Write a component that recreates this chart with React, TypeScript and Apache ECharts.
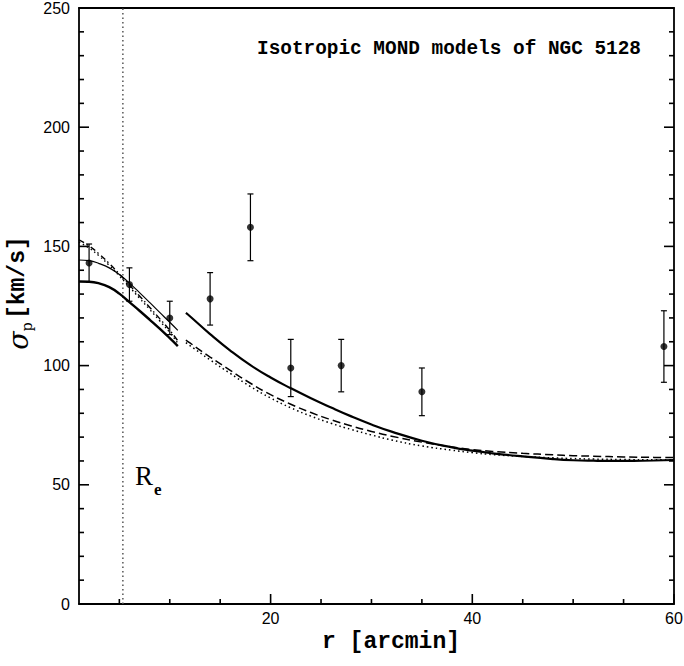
import React, { useEffect, useRef } from "react";
import * as echarts from "echarts";

// Observed data
const dataR = [2, 6, 10, 14, 18, 22, 27, 35, 59];
const dataSigma = [143, 134, 120, 128, 158, 99, 100, 89, 108];
const dataErr = [8, 7, 7, 11, 14, 12, 11, 10, 15];

// Inner models
const innerR = [1, 2, 3, 4, 5, 6, 7, 8, 9, 10, 10.8];
const innerThick = [135.3, 135.2, 134.5, 132.9, 130.2, 126.6, 123.0, 119.3, 115.5, 111.5, 108.2];
const innerThin = [144.3, 144.0, 142.8, 141.0, 138.2, 134.6, 130.6, 126.5, 122.3, 118.2, 114.8];
const innerDashDot = [152.7, 150.2, 146.8, 142.8, 138.4, 133.8, 129.2, 124.5, 119.7, 114.8, 110.4];
const innerDotted = [151.8, 149.3, 146.0, 142.0, 137.6, 133.0, 128.3, 123.6, 118.8, 113.9, 109.4];

// Outer models
const outerR = [11.6, 12, 14, 16, 18, 20, 22, 24, 26, 28, 30, 32, 35, 38, 40, 42, 45, 48, 50, 52, 55, 58, 60];
const outerThick = [122.1, 120.7, 113.2, 106.3, 100.2, 95.0, 90.5, 86.3, 82.4, 78.7, 75.3, 72.3, 68.5, 65.7, 64.3, 63.2, 61.9, 60.8, 60.3, 60.1, 60.0, 60.2, 60.4];
const outerDashed = [110.7, 109.5, 103.6, 98.0, 92.6, 87.8, 83.8, 80.3, 77.3, 74.7, 72.4, 70.4, 67.9, 65.9, 64.8, 64.0, 63.2, 62.6, 62.2, 62.0, 61.7, 61.5, 61.4];
const outerDotted = [109.6, 108.4, 102.4, 96.7, 91.2, 86.4, 82.3, 78.8, 75.8, 73.2, 70.9, 68.8, 66.3, 64.5, 63.5, 62.7, 61.9, 61.3, 61.0, 60.8, 60.6, 60.5, 60.5];

const effectiveRadius = 5.35;
const xMin = 1;
const xMax = 60;
const yMin = 0;
const yMax = 250;
const xMajorTicks = [20, 40, 60];
const xMinorTicks = [5, 10, 15, 25, 30, 35, 45, 50, 55];
const yMajorTicks = [0, 50, 100, 150, 200, 250];
const yMinorTicks = [10, 20, 30, 40, 60, 70, 80, 90, 110, 120, 130, 140, 160, 170, 180, 190, 210, 220, 230, 240];

const zip = (xs: number[], ys: number[]) => xs.map((x, i) => [x, ys[i]]);

export default function App() {
  const ref = useRef<HTMLDivElement>(null);
  useEffect(() => {
    if (!ref.current) return;
    const chart = echarts.init(ref.current, undefined, { renderer: "svg" });
    const axisLine = { show: true, onZero: false, lineStyle: { color: "#000", width: 1.8 } };
    const lineSeries = (data: number[][], width: number, type: any) => ({
      type: "line",
      data,
      symbol: "none",
      smooth: true,
      lineStyle: { color: "#000", width, type },
      z: 3,
    });
    // tick items: [value, side (0 bottom, 1 left, 2 right), length]
    const tickData: number[][] = [
      ...xMajorTicks.map((v) => [v, 0, 10]),
      ...xMinorTicks.map((v) => [v, 0, 5]),
      ...yMajorTicks.map((v) => [v, 1, 10]),
      ...yMinorTicks.map((v) => [v, 1, 5]),
      ...yMajorTicks.map((v) => [v, 2, 10]),
      ...yMinorTicks.map((v) => [v, 2, 5]),
    ];
    const option: any = {
      animation: false,
      backgroundColor: "#fff",
      grid: {
        left: 79, right: 10, top: 8, bottom: 62,
        outerBoundsMode: "none", containLabel: false, show: false,
      },
      xAxis: [
        {
          type: "value", min: xMin, max: xMax, position: "bottom",
          axisLine, splitLine: { show: false }, axisTick: { show: false },
          axisLabel: { show: true, customValues: xMajorTicks, color: "#000", fontSize: 16, fontFamily: "Liberation Sans", margin: 6 },
        },
        {
          type: "value", min: xMin, max: xMax, position: "top",
          axisLine, splitLine: { show: false },
          axisTick: { show: false }, axisLabel: { show: false },
        },
      ],
      yAxis: [
        {
          type: "value", min: yMin, max: yMax, interval: 50, position: "left",
          axisLine, splitLine: { show: false }, axisTick: { show: false },
          axisLabel: { color: "#000", fontSize: 16, fontFamily: "Liberation Sans", margin: 9 },
        },
        {
          type: "value", min: yMin, max: yMax, interval: 50, position: "right",
          axisLine, splitLine: { show: false }, axisTick: { show: false },
          axisLabel: { show: false },
        },
      ],
      graphic: [
        {
          type: "text", left: 257, top: 39,
          style: { text: "Isotropic MOND models of NGC 5128", fill: "#000", font: "bold 19.4px 'Liberation Mono'" },
        },
        {
          type: "text", x: 391, y: 642,
          style: { text: "r [arcmin]", fill: "#000", font: "bold 23px 'Liberation Mono'", align: "center", verticalAlign: "middle" },
        },
        {
          type: "text", x: 18, y: 293, rotation: Math.PI / 2,
          style: {
            text: "{s|σ}{p|p} {u|[km/s]}",
            align: "center",
            verticalAlign: "middle",
            fill: "#000",
            rich: {
              s: { fontFamily: "DejaVu Serif", fontStyle: "italic", fontSize: 27, lineHeight: 32, fill: "#000" },
              p: { fontFamily: "DejaVu Serif", fontSize: 14, lineHeight: 14, verticalAlign: "bottom", fill: "#000" },
              u: { fontFamily: "Liberation Mono", fontWeight: "bold", fontSize: 23, lineHeight: 32, fill: "#000" },
            },
          },
        },
        {
          type: "text", x: 135, y: 462,
          style: {
            text: "{r|R}{e|e}",
            fill: "#000",
            rich: {
              r: { fontFamily: "Liberation Serif", fontSize: 27, lineHeight: 30, fill: "#000", verticalAlign: "top" },
              e: { fontFamily: "Liberation Serif", fontWeight: "bold", fontSize: 17, lineHeight: 17, fill: "#000", verticalAlign: "bottom", padding: [0, 0, -6, 1] },
            },
          },
        },
      ],
      series: [
        {
          type: "custom",
          data: tickData,
          silent: true,
          clip: false,
          renderItem: (params: any, api: any) => {
            const v = api.value(0);
            const side = api.value(1);
            const len = api.value(2);
            let p: number[];
            let q: number[];
            if (side === 0) {
              p = api.coord([v, yMin]);
              q = [p[0], p[1] - len];
            } else if (side === 1) {
              p = api.coord([xMin, v]);
              q = [p[0] + len, p[1]];
            } else {
              p = api.coord([xMax, v]);
              q = [p[0] - len, p[1]];
            }
            return {
              type: "line",
              shape: { x1: p[0], y1: p[1], x2: q[0], y2: q[1] },
              style: { stroke: "#000", lineWidth: 1.6 },
            };
          },
          z: 6,
        },
        {
          type: "line",
          data: [[effectiveRadius, yMin], [effectiveRadius, yMax]],
          symbol: "none",
          lineStyle: { color: "#555", width: 1.5, type: [1.5, 3] },
          z: 2,
        },
        lineSeries(zip(innerR, innerThick), 2.4, "solid"),
        lineSeries(zip(innerR, innerThin), 1.2, "solid"),
        lineSeries(zip(innerR, innerDashDot), 1.4, [6, 3, 1.5, 3]),
        lineSeries(zip(innerR, innerDotted), 1.4, [1.5, 3]),
        lineSeries(zip(outerR, outerThick), 2.2, "solid"),
        lineSeries(zip(outerR, outerDashed), 1.5, [8, 4]),
        lineSeries(zip(outerR, outerDotted), 1.5, [1.5, 3]),
        {
          type: "custom",
          data: dataR.map((r, i) => [r, dataSigma[i], dataErr[i]]),
          renderItem: (params: any, api: any) => {
            const x = api.value(0);
            const y = api.value(1);
            const e = api.value(2);
            const top = api.coord([x, y + e]);
            const bot = api.coord([x, y - e]);
            const st = { stroke: "#000", lineWidth: 1.2 };
            const w = 3;
            return {
              type: "group",
              children: [
                { type: "line", shape: { x1: top[0], y1: top[1], x2: bot[0], y2: bot[1] }, style: st },
                { type: "line", shape: { x1: top[0] - w, y1: top[1], x2: top[0] + w, y2: top[1] }, style: st },
                { type: "line", shape: { x1: bot[0] - w, y1: bot[1], x2: bot[0] + w, y2: bot[1] }, style: st },
              ],
            };
          },
          z: 4,
        },
        {
          type: "scatter",
          data: zip(dataR, dataSigma),
          symbol: "circle",
          symbolSize: 7,
          itemStyle: { color: "#000" },
          z: 5,
        },
      ],
    };
    chart.setOption(option);
    return () => chart.dispose();
  }, []);
  return <div ref={ref} style={{ position: "fixed", left: 0, top: 0, width: 684, height: 666, background: "#fff" }} />;
}
